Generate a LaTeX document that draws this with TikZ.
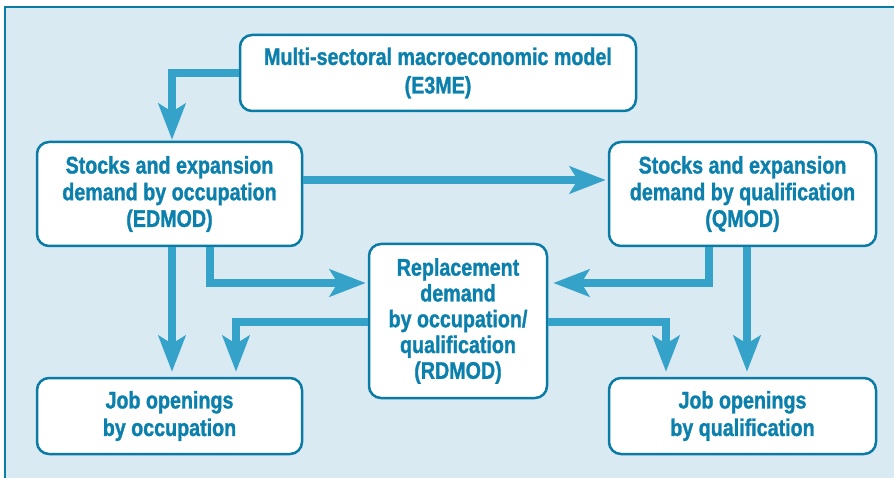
\documentclass[tikz,border=0pt]{standalone}
\usepackage{fontspec}
\setmainfont{Liberation Sans}[FakeStretch=0.82]
\newfontfamily\boxfont{Liberation Sans}[FakeStretch=0.82, UprightFont=* Bold, FakeBold=1.2]
\usetikzlibrary{arrows.meta}
\definecolor{bgblue}{HTML}{DAEAF3}
\definecolor{framecol}{HTML}{0A7BA5}
\definecolor{textcol}{HTML}{0B80AD}
\definecolor{arrcol}{HTML}{35A3C9}
\tikzset{
  box/.style={draw=framecol, line width=2.5pt, fill=white, rounded corners=12pt,
    align=center, text=textcol, font=\fontsize{24}{27}\selectfont\boxfont, inner sep=0pt},
  arr/.style={draw=arrcol, line width=8pt,
    -{Stealth[length=36pt, width=27pt, inset=8pt]}},
}
\begin{document}
\begin{tikzpicture}[x=1pt,y=-1pt]
\useasboundingbox (0,0) rectangle (894,478);
\fill[bgblue] (5,7) rectangle (900,485);
\draw[framecol, line width=2.5pt] (5,485) -- (5,7) -- (900,7);

\node[box, minimum width=396pt, minimum height=76pt, font=\fontsize{24}{28.5}\selectfont\boxfont] (top) at (438,73) {Multi-sectoral macroeconomic model\\(E3ME)};
\node[box, minimum width=265pt, minimum height=104pt, font=\fontsize{24}{26.7}\selectfont\boxfont] (left) at (169.5,194) {Stocks and expansion\\demand by occupation\\(EDMOD)};
\node[box, minimum width=267pt, minimum height=104pt, font=\fontsize{24}{26.7}\selectfont\boxfont] (right) at (742.5,194) {Stocks and expansion\\demand by qualification\\(QMOD)};
\node[box, minimum width=178pt, minimum height=154pt, font=\fontsize{24}{25.8}\selectfont\boxfont] (rd) at (458,321) {Replacement\\demand\\by occupation/\\qualification\\(RDMOD)};
\node[box, minimum width=265pt, minimum height=76pt, font=\fontsize{24}{27.5}\selectfont\boxfont] (bl) at (169.5,416) {Job openings\\by occupation};
\node[box, minimum width=267pt, minimum height=76pt, font=\fontsize{24}{27.5}\selectfont\boxfont] (br) at (742.5,416) {Job openings\\by qualification};

\coordinate (xA) at (172,0);
\coordinate (xB) at (210,0);
\coordinate (xC) at (236,0);
\coordinate (xD) at (666,0);
\coordinate (xE) at (709,0);
\coordinate (xF) at (747,0);
\coordinate (yA) at (0,180);
\coordinate (yB) at (0,283);
\coordinate (yC) at (0,322);

\draw[arr, shorten >=1pt] (top.west) -| (xA |- left.north);
\draw[arr, shorten >=2pt] (left.east |- yA) -- (right.west |- yA);
\draw[arr, shorten >=2pt] (xB |- left.south) |- (rd.west |- yB);
\draw[arr, shorten >=5pt] (xA |- left.south) -- (xA |- bl.north);
\draw[arr, shorten >=5pt] (rd.west |- yC) -| (xC |- bl.north);
\draw[arr, shorten >=5pt] (xE |- right.south) |- (rd.east |- yB);
\draw[arr, shorten >=5pt] (xF |- right.south) -- (xF |- br.north);
\draw[arr, shorten >=5pt] (rd.east |- yC) -| (xD |- br.north);
\end{tikzpicture}
\end{document}
